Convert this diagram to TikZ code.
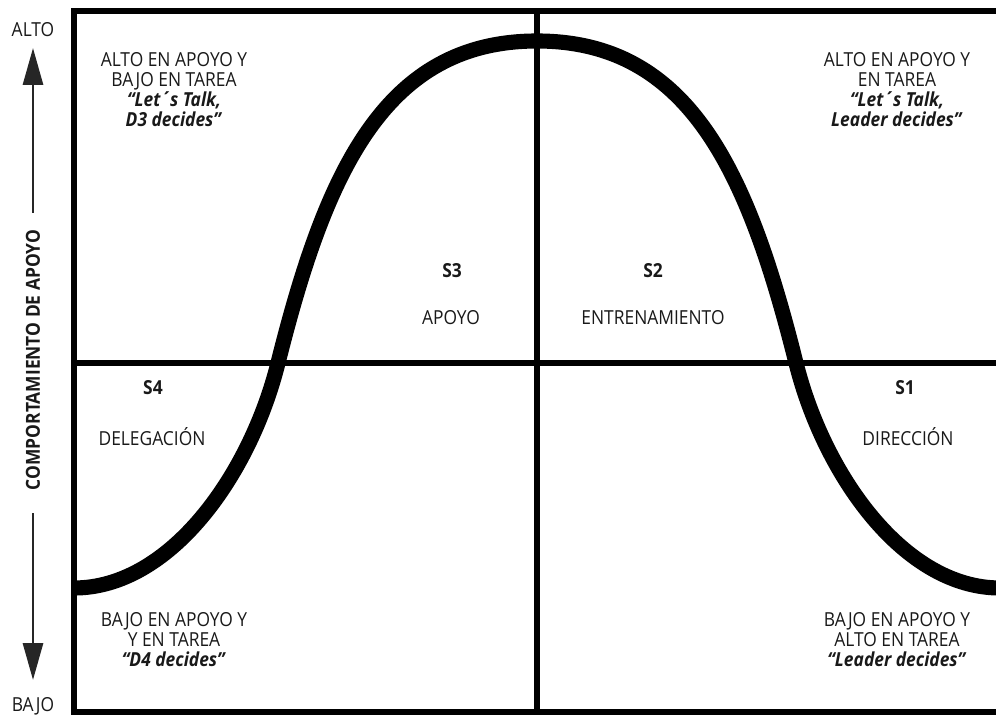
\documentclass[tikz,border=0pt]{standalone}
\usepackage{fontspec}
\setmainfont[FakeStretch=0.9]{Open Sans}
\usetikzlibrary{arrows.meta}
\begin{document}
\begin{tikzpicture}[x=0.02cm,y=-0.02cm,
  frameline/.style={line width=3.4pt, line cap=butt},
  bell/.style={line width=8.6pt},
  txt/.style={font=\fontsize{11}{11.4}\selectfont, align=center, inner sep=0pt, text=black!90},
  slab/.style={font=\fontsize{11}{11.4}\selectfont\bfseries, inner sep=0pt, text=black!90},
  axisarrow/.style={line width=1.7pt, draw=black!85, -{Triangle[length=0.74cm,width=0.4cm]}}
]
\useasboundingbox (0,0) rectangle (996,715);
\begin{scope}
\clip (0,0) rectangle (996,715);
\draw[frameline] (1010,11) -- (74,11) -- (74,712) -- (1010,712);
\draw[frameline] (537,11) -- (537,712);
\draw[frameline] (74,363) -- (1010,363);
\draw[bell] (74,588) .. controls (170,588) and (250,475) .. (278,363)
  .. controls (326,171) and (385,41) .. (537,41)
  .. controls (689,41) and (748,171) .. (796,363)
  .. controls (824,475) and (904,588) .. (1000,588);
\end{scope}

% axis
\node[txt] (alto) at (33,30) {ALTO};
\node[txt] (bajo) at (33,706) {BAJO};
\node[slab, rotate=90] (axlab) at (33,360) {COMPORTAMIENTO DE APOYO};
\coordinate (upfrom) at (33,213);
\coordinate (uptip) at (33,48);
\coordinate (downfrom) at (33,513);
\coordinate (downtip) at (33,680);
\draw[axisarrow] (upfrom) -- (uptip);
\draw[axisarrow] (downfrom) -- (downtip);

% quadrant texts
\node[txt] (tl) at (174,90) {ALTO EN APOYO Y\\BAJO EN TAREA\\\textbf{\textit{“Let´s Talk,}}\\\textbf{\textit{D3 decides”}}};
\node[txt] (tr) at (897,90) {ALTO EN APOYO Y\\EN TAREA\\\textbf{\textit{“Let´s Talk,}}\\\textbf{\textit{Leader decides”}}};
\node[txt] (bl) at (174,640) {BAJO EN APOYO Y\\Y EN TAREA\\\textbf{\textit{“D4 decides”}}};
\node[txt] (br) at (897,640) {BAJO EN APOYO Y\\ALTO EN TAREA\\\textbf{\textit{“Leader decides”}}};

\node[slab] (s3) at (452,271) {S3};
\node[txt] (s3t) at (451,318) {APOYO};
\node[slab] (s2) at (653,271) {S2};
\node[txt] (s2t) at (653,318) {ENTRENAMIENTO};
\node[slab] (s4) at (153,388) {S4};
\node[txt] (s4t) at (152,437) {DELEGACIÓN};
\node[slab] (s1) at (905,388) {S1};
\node[txt] (s1t) at (908,437) {DIRECCIÓN};
\end{tikzpicture}
\end{document}
